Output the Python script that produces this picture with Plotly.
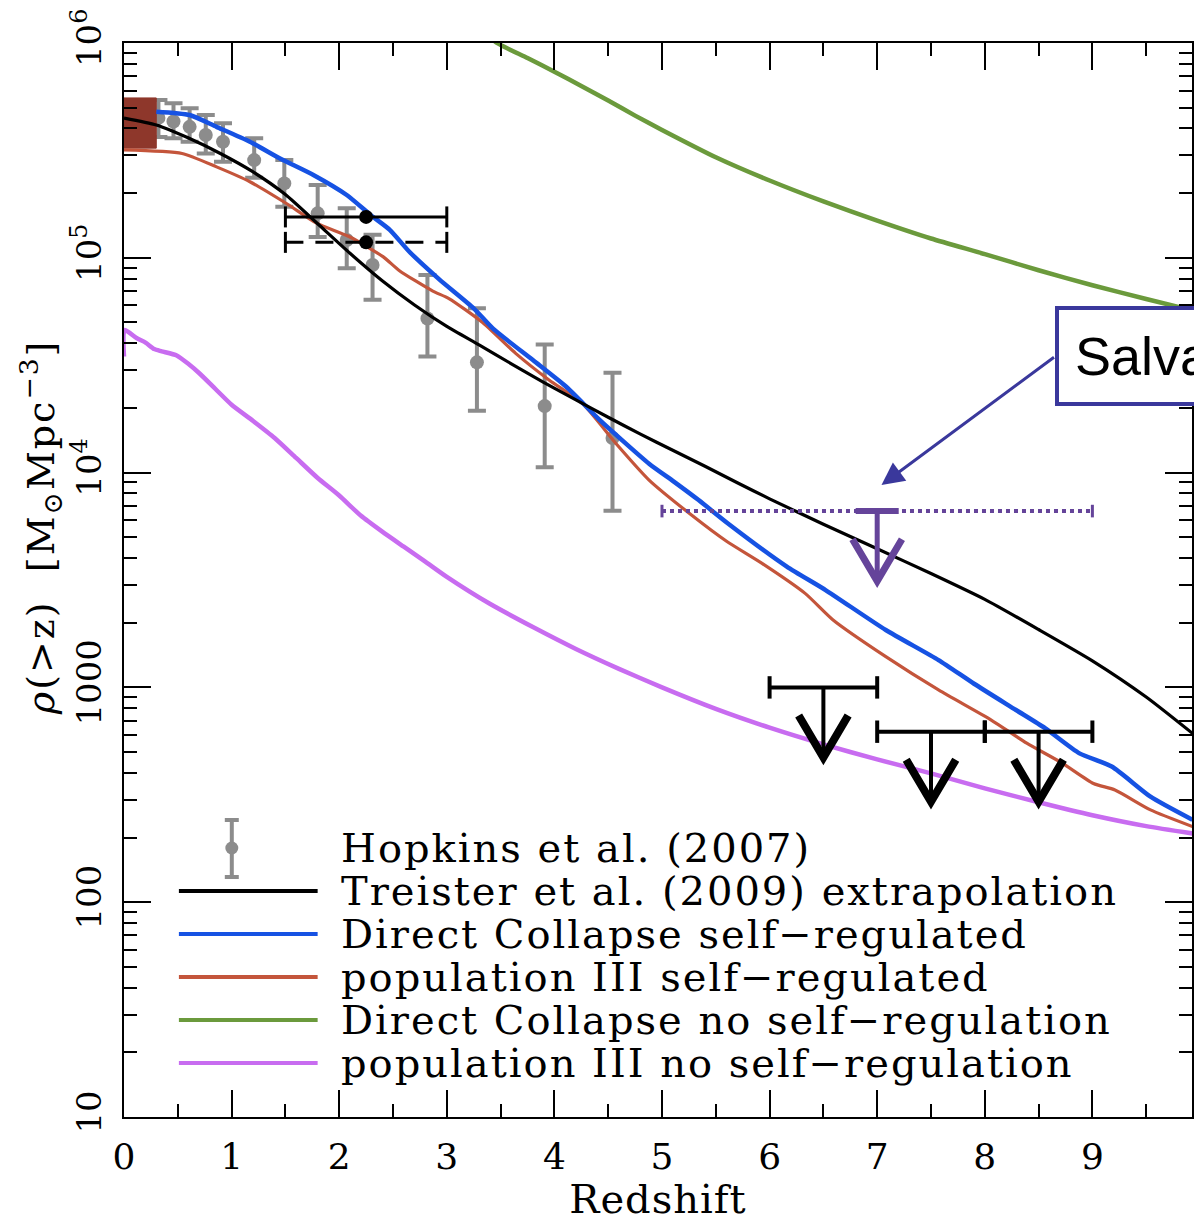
import plotly.graph_objects as go

# ---------------- data ----------------
# Hopkins et al. (2007): integrated black-hole mass density above z
hop_z = [0.32, 0.46, 0.61, 0.76, 0.92, 1.21, 1.49, 1.80, 2.07, 2.31, 2.82, 3.28, 3.91, 4.54]
hop_rho = [4.48e5, 4.31e5, 4.07e5, 3.73e5, 3.47e5, 2.85e5, 2.22e5, 1.61e5, 1.21e5, 9.25e4,
           5.22e4, 3.26e4, 2.04e4, 1.45e4]
hop_hi = [5.43e5, 5.24e5, 4.97e5, 4.62e5, 4.23e5, 3.60e5, 2.85e5, 2.18e5, 1.70e5, 1.28e5,
          8.32e4, 5.82e4, 3.95e4, 2.92e4]
hop_lo = [3.65e5, 3.60e5, 3.47e5, 3.06e5, 2.80e5, 2.36e5, 1.73e5, 1.25e5, 8.93e4, 6.37e4,
          3.47e4, 1.94e4, 1.06e4, 6.65e3]

# local mass density box
local_z = [0.0, 0.3]
local_rho = [3.24e5, 5.55e5]

# Treister et al. (2009) extrapolation
tre_z = [0.00, 0.30, 0.60, 0.90, 1.20, 1.50, 1.80, 2.10, 2.40, 2.70, 3.00, 3.30, 3.60, 3.90,
         4.20, 4.50, 4.80, 5.10, 5.40, 5.70, 6.00, 6.50, 7.00, 7.50, 8.00, 8.50, 9.00, 9.50,
         9.93]
tre_rho = [4.47e5, 4.15e5, 3.61e5, 3.05e5, 2.51e5, 1.97e5, 1.44e5, 1.05e5, 7.82e4, 6.03e4,
           4.79e4, 3.93e4, 3.21e4, 2.63e4, 2.18e4, 1.81e4, 1.51e4, 1.27e4, 1.07e4, 8.97e3,
           7.55e3, 5.75e3, 4.42e3, 3.39e3, 2.57e3, 1.86e3, 1.33e3, 902, 611]

# Direct Collapse, self-regulated
dcs_z = [0.30, 0.61, 0.86, 1.17, 1.45, 1.76, 2.07, 2.30, 2.47, 2.65, 2.93, 3.25, 3.43, 3.80,
         4.11, 4.42, 4.88, 5.11, 5.34, 5.61, 6.16, 6.52, 7.08, 7.57, 7.90, 8.29, 8.56, 8.88,
         9.18, 9.54, 9.93]
dcs_rho = [4.79e5, 4.62e5, 4.07e5, 3.47e5, 2.90e5, 2.43e5, 1.96e5, 1.57e5, 1.35e5, 1.07e5,
           7.94e4, 5.82e4, 4.68e4, 3.34e4, 2.51e4, 1.76e4, 1.10e4, 9.08e3, 7.45e3, 5.81e3,
           3.65e3, 2.84e3, 1.85e3, 1.34e3, 1.04e3, 785, 646, 493, 428, 310, 242]

# population III, self-regulated
p3s_z = [0.00, 0.54, 0.86, 1.17, 1.51, 1.79, 2.10, 2.41, 2.56, 2.87, 3.02, 3.33, 3.64, 3.95,
         4.26, 4.57, 4.88, 5.28, 5.60, 5.93, 6.33, 6.59, 7.08, 7.57, 8.06, 8.39, 8.72, 9.01,
         9.21, 9.54, 9.93]
p3s_rho = [3.18e5, 3.06e5, 2.65e5, 2.26e5, 1.79e5, 1.45e5, 1.25e5, 1.01e5, 8.71e4, 7.00e4,
           6.46e4, 5.01e4, 3.59e4, 2.70e4, 2.10e4, 1.37e4, 9.23e3, 6.31e3, 4.79e3, 3.78e3,
           2.74e3, 2.06e3, 1.39e3, 973, 705, 550, 444, 357, 333, 269, 225]

# Direct Collapse, no self-regulation
dcn_z = [3.30, 3.47, 3.75, 4.00, 4.25, 4.50, 4.75, 5.00, 5.50, 6.00, 6.50, 7.00, 7.50, 8.00,
         8.50, 9.00, 9.50, 9.93]
dcn_rho = [1.17e6, 9.98e5, 8.51e5, 7.35e5, 6.31e5, 5.40e5, 4.59e5, 3.94e5, 2.94e5, 2.29e5,
           1.83e5, 1.49e5, 1.23e5, 1.04e5, 8.75e4, 7.45e4, 6.43e4, 5.69e4]

# population III, no self-regulation
p3n_z = [0.000, 0.005, 0.12, 0.20, 0.28, 0.35, 0.49, 0.60, 0.70, 0.85, 1.00, 1.20, 1.40, 1.60,
         1.80, 2.00, 2.20, 2.40, 2.60, 2.80, 3.00, 3.40, 3.80, 4.20, 4.60, 5.00, 5.50, 6.00,
         6.50, 7.00, 7.50, 8.00, 8.50, 9.00, 9.50, 9.93]
p3n_rho = [3.47e4, 4.61e4, 4.22e4, 4.03e4, 3.76e4, 3.67e4, 3.51e4, 3.20e4, 2.90e4, 2.45e4,
           2.07e4, 1.74e4, 1.45e4, 1.17e4, 9.44e3, 7.82e3, 6.31e3, 5.31e3, 4.52e3, 3.85e3,
           3.27e3, 2.45e3, 1.91e3, 1.51e3, 1.22e3, 1.00e3, 794, 649, 543, 462, 398, 339,
           292, 254, 226, 209]

# black points with redshift-range bars (solid / dashed)
bin_z = [2.25, 2.25]
bin_zlo = [1.5, 1.5]
bin_zhi = [3.0, 3.0]
bin_rho = [1.55e5, 1.18e5]
bin_dash = ["solid", "18px,12px"]

# high-redshift upper limits (black)
ul_zlo = [6.0, 7.0, 8.0]
ul_zhi = [7.0, 8.0, 9.0]
ul_rho = [1000, 622, 622]

# Salvaterra et al. upper limit
sal_zlo, sal_zhi, sal_zc = 5.0, 9.0, 7.0
sal_rho = 6620

# tick labels
x_ticks = list(range(10))
y_tickvals = [10, 100, 1000, 1e4, 1e5, 1e6]
y_ticktext = ["10", "100", "1000", "10<sup>4</sup>", "10<sup>5</sup>", "10<sup>6</sup>"]

# ---------------- styling ----------------
GRAY = "#8c8c8c"
BLUE = "#1652e3"
RED = "#c4553b"
GREEN = "#6b9a3c"
VIOLET = "#c86cf0"
BROWN = "#8e372b"
SALV = "#65449a"
BOXC = "#3a389c"
SERIF = "DejaVu Serif"

W, H = 1194, 1222
ML, MR, MT, MB = 124, 0, 43, 105
PW, PH = W - ML - MR, H - MT - MB

ARROW_LEN = 0.326   # stem length of limit arrows (dex)
HEAD_H = 0.195      # arrow-head height (dex)
HEAD_W = 0.23       # arrow-head half width (redshift units)


def px_x(p):
    return (p - ML) / PW


def px_y(p):
    return (H - MB - p) / PH


def spaced(s, px=2):
    return '<span style="letter-spacing:%dpx">%s</span>' % (px, s)


fig = go.Figure()

# Hopkins data with asymmetric errors
fig.add_trace(go.Scatter(
    x=hop_z, y=hop_rho, mode="markers",
    marker=dict(color=GRAY, size=14),
    error_y=dict(type="data", symmetric=False,
                 array=[h - r for h, r in zip(hop_hi, hop_rho)],
                 arrayminus=[r - l for r, l in zip(hop_rho, hop_lo)],
                 color=GRAY, thickness=4, width=9),
    showlegend=False, hoverinfo="skip"))

# local density box
fig.add_trace(go.Scatter(
    x=[local_z[0], local_z[1], local_z[1], local_z[0], local_z[0]],
    y=[local_rho[0], local_rho[0], local_rho[1], local_rho[1], local_rho[0]],
    mode="lines", fill="toself", fillcolor=BROWN,
    line=dict(color=BROWN, width=1), showlegend=False, hoverinfo="skip"))

# model curves
for zz, rr, col, lw in [
        (p3n_z, p3n_rho, VIOLET, 4.5),
        (dcn_z, dcn_rho, GREEN, 4.5),
        (p3s_z, p3s_rho, RED, 3.2),
        (dcs_z, dcs_rho, BLUE, 4.5),
        (tre_z, tre_rho, "black", 3.2)]:
    fig.add_trace(go.Scatter(x=zz, y=rr, mode="lines",
                             line=dict(color=col, width=lw, shape="spline", smoothing=0.6),
                             showlegend=False, hoverinfo="skip"))

# redshift-binned black points
for zc, zlo, zhi, rho, dash in zip(bin_z, bin_zlo, bin_zhi, bin_rho, bin_dash):
    fig.add_trace(go.Scatter(x=[zlo, zhi], y=[rho, rho], mode="lines",
                             line=dict(color="black", width=3, dash=dash),
                             showlegend=False, hoverinfo="skip"))
    fig.add_trace(go.Scatter(x=[zlo, zhi], y=[rho, rho], mode="markers",
                             marker=dict(symbol="line-ns", size=15,
                                         line=dict(color="black", width=3)),
                             showlegend=False, hoverinfo="skip"))
    fig.add_trace(go.Scatter(x=[zc], y=[rho], mode="markers",
                             marker=dict(color="black", size=14),
                             showlegend=False, hoverinfo="skip"))


def limit_arrow(zlo, zhi, zc, rho, col, bar_w, bar_dash, stem_w, head_w, cap, mid=None):
    tip = rho * 10 ** (-ARROW_LEN)
    fig.add_trace(go.Scatter(x=[zlo, zhi], y=[rho, rho], mode="lines",
                             line=dict(color=col, width=bar_w, dash=bar_dash),
                             showlegend=False, hoverinfo="skip"))
    fig.add_trace(go.Scatter(x=[zlo, zhi], y=[rho, rho], mode="markers",
                             marker=dict(symbol="line-ns", size=cap[0],
                                         line=dict(color=col, width=cap[1])),
                             showlegend=False, hoverinfo="skip"))
    if mid is not None:
        fig.add_trace(go.Scatter(x=[zc - mid, zc + mid], y=[rho, rho], mode="lines",
                                 line=dict(color=col, width=6),
                                 showlegend=False, hoverinfo="skip"))
    fig.add_trace(go.Scatter(x=[zc, zc], y=[rho, tip], mode="lines",
                             line=dict(color=col, width=stem_w),
                             showlegend=False, hoverinfo="skip"))
    top = tip * 10 ** HEAD_H
    fig.add_trace(go.Scatter(x=[zc - HEAD_W, zc, zc + HEAD_W], y=[top, tip, top],
                             mode="lines", line=dict(color=col, width=head_w),
                             showlegend=False, hoverinfo="skip"))


for zlo, zhi, rho in zip(ul_zlo, ul_zhi, ul_rho):
    limit_arrow(zlo, zhi, (zlo + zhi) / 2, rho, "black", 4, "solid", 4, 8, (16, 4))

limit_arrow(sal_zlo, sal_zhi, sal_zc, sal_rho, SALV, 4, "dot", 5, 7, (9, 3), mid=0.2)

# ---------------- axes ----------------
x_minor = [i + 0.5 for i in range(10)]
y_minor = [k * 10 ** d for d in range(1, 6) for k in range(2, 10)]

fig.update_xaxes(
    range=[0, PW / 107.8], tickvals=x_ticks, ticktext=[str(t) for t in x_ticks],
    ticks="inside", ticklen=27, tickwidth=2, tickcolor="black",
    showline=True, linewidth=2, linecolor="black", mirror="ticks",
    showgrid=False, zeroline=False,
    tickfont=dict(family=SERIF, size=36, color="black"), ticklabelstandoff=7,
    minor=dict(tickvals=x_minor, ticks="inside", ticklen=13, tickwidth=2,
               tickcolor="black", showgrid=False),
    title=dict(text=spaced("Redshift", 1), font=dict(family=SERIF, size=40, color="black"),
               standoff=9))

fig.update_yaxes(
    type="log", range=[1, 6], tickvals=y_tickvals, ticktext=y_ticktext, tickangle=-90,
    ticks="inside", ticklen=27, tickwidth=2, tickcolor="black",
    showline=True, linewidth=2, linecolor="black", mirror="ticks",
    showgrid=False, zeroline=False,
    tickfont=dict(family=SERIF, size=34, color="black"), ticklabelstandoff=7,
    minor=dict(tickvals=y_minor, ticks="inside", ticklen=13, tickwidth=2,
               tickcolor="black", showgrid=False))

# ---------------- legend (drawn) ----------------
legend_rows = [
    ("Hopkins et al. (2007)", None),
    ("Treister et al. (2009) extrapolation", "black"),
    ("Direct Collapse self−regulated", BLUE),
    ("population III self−regulated", RED),
    ("Direct Collapse no self−regulation", GREEN),
    ("population III no self−regulation", VIOLET),
]
row_y = [848, 891, 934, 977, 1020, 1063]
shapes = []
annotations = []
for (label, col), yy in zip(legend_rows, row_y):
    if col is None:
        shapes.append(dict(type="line", xref="paper", yref="paper",
                           x0=px_x(232), x1=px_x(232), y0=px_y(820), y1=px_y(877),
                           line=dict(color=GRAY, width=4)))
        for cy in (820, 877):
            shapes.append(dict(type="line", xref="paper", yref="paper",
                               x0=px_x(225), x1=px_x(239), y0=px_y(cy), y1=px_y(cy),
                               line=dict(color=GRAY, width=4)))
        shapes.append(dict(type="circle", xref="paper", yref="paper",
                           x0=px_x(225.5), x1=px_x(238.5), y0=px_y(854.5), y1=px_y(841.5),
                           fillcolor=GRAY, line=dict(color=GRAY, width=0)))
    else:
        shapes.append(dict(type="line", xref="paper", yref="paper",
                           x0=px_x(179), x1=px_x(318), y0=px_y(yy), y1=px_y(yy),
                           line=dict(color=col, width=4)))
    annotations.append(dict(text=spaced(label, 2), xref="paper", yref="paper",
                            x=px_x(339), y=px_y(yy), xanchor="left", yanchor="middle",
                            showarrow=False,
                            font=dict(family=SERIF, size=40, color="black")))

# y-axis title
annotations.append(dict(text=spaced("<i>ρ</i>(>z)  [M<sub>⊙</sub>Mpc<sup>−3</sup>]", 2),
                        xref="paper", yref="paper", x=px_x(40), y=px_y(527),
                        xanchor="center", yanchor="middle", textangle=-90,
                        showarrow=False,
                        font=dict(family=SERIF, size=38, color="black")))

# Salvaterra label box and pointer
annotations.append(dict(text="Salvaterra et al. (2012)", xref="paper", yref="paper",
                        x=px_x(1057), y=px_y(356), xanchor="left", yanchor="middle",
                        showarrow=False, bordercolor=BOXC, borderwidth=4, borderpad=16,
                        bgcolor="white",
                        font=dict(family="Liberation Sans", size=54, color="black")))
annotations.append(dict(text="", x=7.04, y=3.942, xref="x", yref="y",
                        showarrow=True, ax=174, ay=-129, arrowhead=2, arrowsize=1.5,
                        arrowwidth=3, arrowcolor=BOXC, standoff=0, startstandoff=0))

fig.update_layout(
    width=W, height=H, margin=dict(l=ML, r=MR, t=MT, b=MB, pad=0),
    plot_bgcolor="white", paper_bgcolor="white",
    showlegend=False, shapes=shapes, annotations=annotations)

fig.write_html("out.html")
